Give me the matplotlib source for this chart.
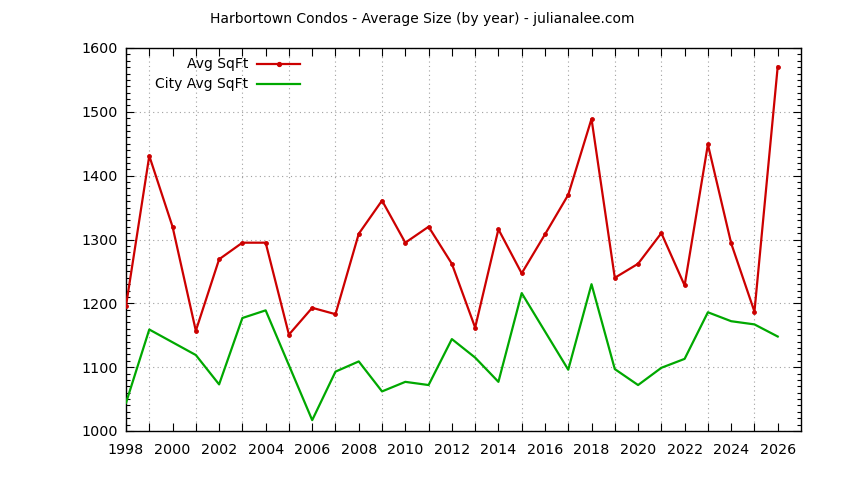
import numpy as np
import matplotlib
matplotlib.use("Agg")
import matplotlib.pyplot as plt
from matplotlib.ticker import MultipleLocator

# Values
years = list(range(1998, 2027))
avg_sqft = [1196, 1431, 1320, 1157, 1269, 1295, 1295, 1151, 1193, 1183,
            1309, 1361, 1295, 1320, 1262, 1162, 1316, 1247, 1308, 1370,
            1489, 1240, 1262, 1310, 1228, 1449, 1294, 1187, 1571]
city_avg_sqft = [1044, 1159, 1139, 1119, 1073, 1177, 1189, 1103, 1017, 1093,
                 1109, 1062, 1077, 1072, 1144, 1115, 1077, 1216, 1156, 1096,
                 1230, 1097, 1072, 1099, 1113, 1186, 1172, 1167, 1148]
series_labels = ["Avg SqFt", "City Avg SqFt"]
title = "Harbortown Condos - Average Size (by year) - julianalee.com"

RED = "#cc0000"
GREEN = "#00a800"

plt.rcParams["font.family"] = ["DejaVu Sans"]
plt.rcParams["font.size"] = 10.3

fig = plt.figure(figsize=(8.44, 4.8), dpi=100)
ax = fig.add_axes([126 / 844, 1 - 431 / 480, 675 / 844, 383 / 480])

ax.plot(years, avg_sqft, color=RED, lw=1.6, marker="o", ms=2.8,
        markeredgewidth=0.6, zorder=3)
ax.plot(years, city_avg_sqft, color=GREEN, lw=1.6, zorder=3)

ax.set_xlim(1998, 2027)
ax.set_ylim(1000, 1600)

ax.set_xticks(years[::2])
ax.set_xticks(years, minor=True)
ax.yaxis.set_major_locator(MultipleLocator(100))
ax.yaxis.set_minor_locator(MultipleLocator(10))

ax.tick_params(which="both", direction="in", top=True, right=True,
               color="black", width=0.8)
ax.tick_params(which="major", length=6)
ax.tick_params(which="major", axis="x", pad=9)
ax.tick_params(which="major", axis="y", pad=6)
ax.tick_params(which="minor", axis="y", length=3)
ax.tick_params(which="minor", axis="x", length=6)

ax.grid(True, which="major", axis="y", color="#a0a0a0", ls=(0, (1, 3)), lw=0.8)
ax.grid(True, which="minor", axis="x", color="#a0a0a0", ls=(0, (1, 3)), lw=0.8)
for s in ax.spines.values():
    s.set_linewidth(1.0)

# gnuplot-style key: right-aligned labels followed by line samples
key_y = [0.958, 0.906]
styles = [dict(color=RED, marker="o", ms=2.8, markevery=[1]),
          dict(color=GREEN)]
for lab, yk, st in zip(series_labels, key_y, styles):
    ax.text(0.181, yk, lab, transform=ax.transAxes, ha="right", va="center",
            fontsize=10)
    ax.plot([0.194, 0.226, 0.258], [yk, yk, yk], transform=ax.transAxes,
            lw=1.6, **st)

fig.text(0.5, 1 - 19 / 480, title, ha="center", va="center", fontsize=10)

fig.savefig("out.png", dpi=100)
